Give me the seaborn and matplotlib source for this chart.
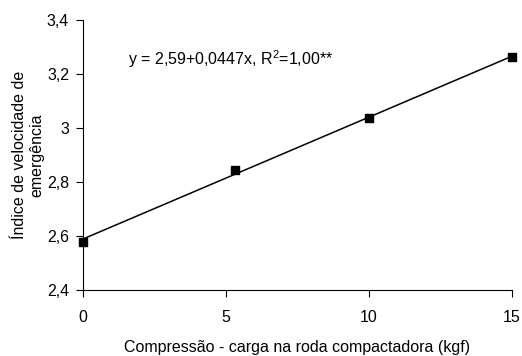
import matplotlib
matplotlib.use("Agg")
from matplotlib import pyplot as plt
from matplotlib.ticker import FuncFormatter
import seaborn as sns
import pandas as pd

# dados
compressao = [0, 5.3, 10, 15]
indice = [2.58, 2.844, 3.038, 3.262]
x_ticks = [0, 5, 10, 15]
y_ticks = [2.4, 2.6, 2.8, 3.0, 3.2, 3.4]
equacao = "y = 2,59+0,0447x, R$^2$=1,00**"

df = pd.DataFrame({"x": compressao, "y": indice})

sns.set_style("ticks")
plt.rcParams['font.family'] = ['Liberation Sans', 'DejaVu Sans']
plt.rcParams['mathtext.fontset'] = 'custom'
plt.rcParams['mathtext.rm'] = 'Liberation Sans'
plt.rcParams['text.color'] = 'black'
plt.rcParams['axes.labelcolor'] = 'black'

fig = plt.figure(figsize=(5.22, 3.56), dpi=100)
ax = fig.add_axes([0.159, 0.185, 0.822, 0.759])

sns.regplot(data=df, x="x", y="y", ci=None, ax=ax, marker="s",
            color="black", line_kws={"linewidth": 1.1},
            scatter_kws={"s": 40, "alpha": 1, "clip_on": False, "zorder": 3})

ax.set_xlim(0, 15)
ax.set_ylim(2.4, 3.4)
ax.set_xticks(x_ticks)
ax.set_yticks(y_ticks)
ax.yaxis.set_major_formatter(FuncFormatter(lambda v, p: f"{v:g}".replace(".", ",")))
ax.tick_params(labelsize=11.5, length=5, width=0.8, colors="black", pad=5)
ax.tick_params(axis="x", pad=9)
for s in ["left", "bottom"]:
    ax.spines[s].set_color("black")
    ax.spines[s].set_linewidth(0.8)
sns.despine(ax=ax)

ax.set_xlabel("Compressão - carga na roda compactadora (kgf)", fontsize=11.5, labelpad=11)
ax.set_ylabel("Índice de velocidade de\nemergência", fontsize=11.5, labelpad=2)
ax.text(1.57, 3.255, equacao, fontsize=11.5, va="center")

fig.savefig("out.png", dpi=100)
